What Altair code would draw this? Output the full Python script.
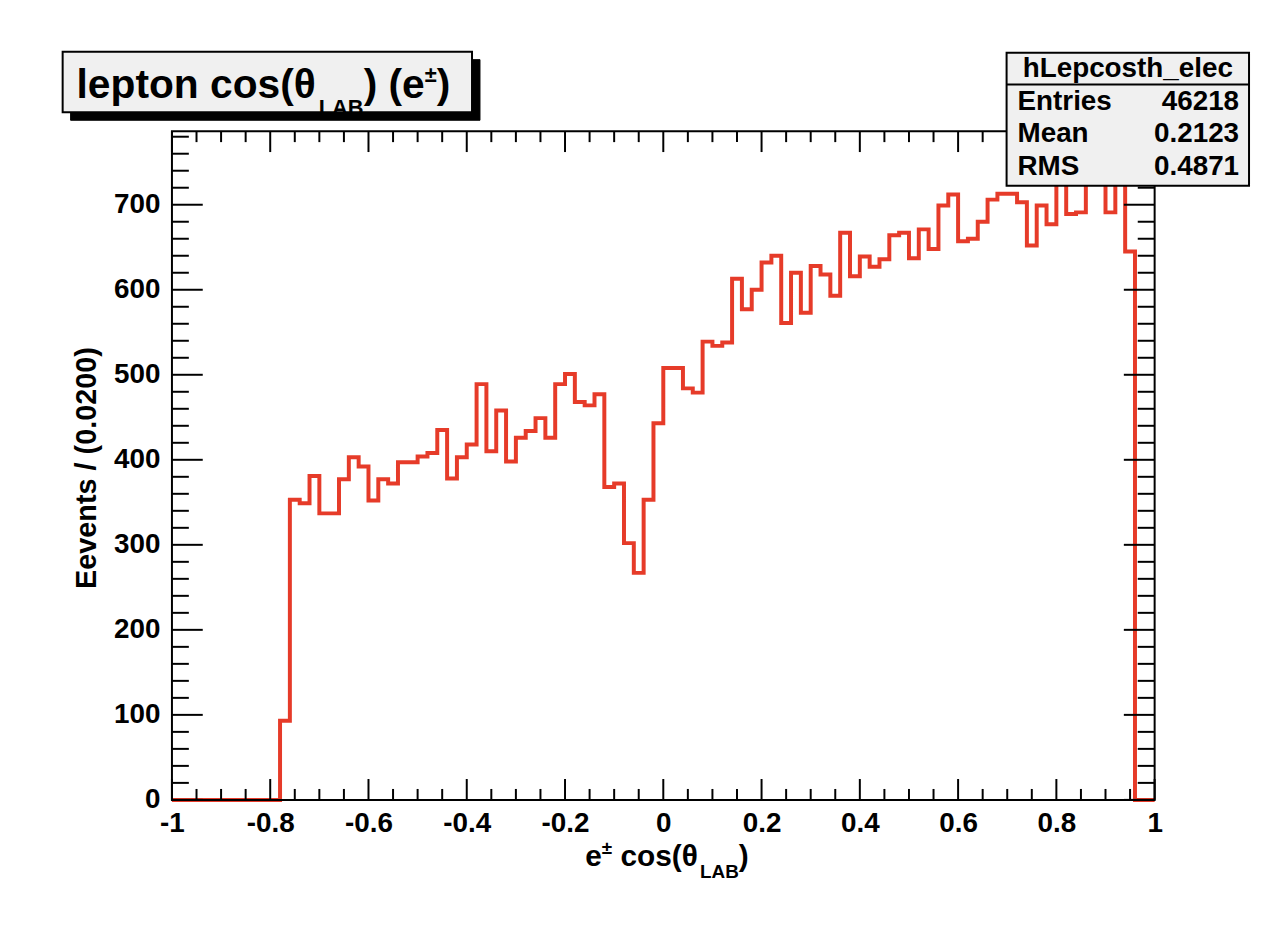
import altair as alt
import pandas as pd

# ---------------- data ----------------
BIN_WIDTH = 0.02
x_low = [round(-1 + BIN_WIDTH * i, 2) for i in range(100)]
counts = [0] * 11 + [
    93, 353, 349, 381, 337, 337, 377, 403, 392, 352,
    377, 372, 397, 397, 404, 408, 435, 378, 403, 418,
    489, 410, 458, 398, 426, 434, 449, 426, 489, 501,
    468, 464, 477, 368, 372, 302, 267, 353, 443, 508,
    508, 484, 479, 539, 534, 538, 613, 577, 600, 632,
    640, 561, 620, 573, 628, 618, 593, 667, 616, 639,
    627, 636, 664, 667, 637, 671, 648, 699, 712, 657,
    660, 680, 706, 713, 713, 703, 652, 699, 677, 728,
    689, 691, 749, 725, 691, 735, 645, 0, 0,
]
x_major = [-1, -0.8, -0.6, -0.4, -0.2, 0, 0.2, 0.4, 0.6, 0.8, 1]
x_minor = [round(-1 + 0.05 * i, 2) for i in range(41) if i % 4 != 0]
y_major = [0, 100, 200, 300, 400, 500, 600, 700]
y_minor = [v for v in range(0, 781, 20) if v % 100 != 0]

title_main = "lepton cos(θ"
title_sub = "LAB"
title_mid = ") (e"
title_sup = "±"
title_end = ")"
xt_a, xt_sup, xt_b, xt_sub, xt_c = "e", "±", "cos(θ", "LAB", ")"
y_title = "Eevents / (0.0200)"
stats_name = "hLepcosth_elec"
stats_keys = ["Entries", "Mean", "RMS"]
stats_vals = ["46218", "0.2123", "0.4871"]

# ---------------- layout helpers ----------------
W, H = 989, 673
PX0, PY0 = 173, 129  # page position of plot origin
FONT = "Liberation Sans, Arial, Helvetica, sans-serif"
RED = "#e63b29"

AW = {' ': 278, '(': 333, ')': 333, '.': 278, '/': 278, '_': 556, '±': 549,
      'A': 722, 'B': 722, 'E': 667, 'L': 611, 'M': 833, 'R': 722, 'S': 667,
      'a': 556, 'c': 556, 'e': 556, 'h': 611, 'i': 278, 'l': 278, 'n': 611,
      'o': 611, 'p': 611, 'r': 389, 's': 556, 't': 333, 'v': 556, 'θ': 611}


def tw(s, size):
    return sum(AW.get(ch, 556) for ch in s) / 1000 * size


def px(xp):
    return xp - PX0


def py(yp):
    return yp - PY0


def txt(s, x, y, size, align="left", baseline="alphabetic", angle=0):
    return alt.Chart(alt.Data(values=[{"t": s}])).mark_text(
        font=FONT, fontSize=size, fontWeight="bold", color="black",
        align=align, baseline=baseline, angle=angle,
    ).encode(text="t:N", x=alt.value(x), y=alt.value(y))


def box(x1, y1, x2, y2, fill, stroke="black", sw=2):
    return alt.Chart(alt.Data(values=[{"a": 1}])).mark_rect(
        fill=fill, stroke=stroke, strokeWidth=sw
    ).encode(x=alt.value(x1), x2=alt.value(x2), y=alt.value(y1), y2=alt.value(y2))


xscale = alt.Scale(domain=[-1, 1], nice=False, zero=False)
yscale = alt.Scale(domain=[0, 786.5], nice=False, zero=False)

XAXIS = alt.Axis(
    values=x_major, labelExpr="toString(datum.value)", ticks=False, domain=False,
    grid=False, title=None, labelFont=FONT, labelFontSize=28, labelFontWeight="bold",
    labelColor="black", labelPadding=10, labelFlush=False, labelOverlap=False)
YAXIS = alt.Axis(
    values=y_major, ticks=False, domain=False, grid=False, title=None,
    labelFont=FONT, labelFontSize=28, labelFontWeight="bold", labelColor="black",
    labelPadding=12, labelFlush=False, labelOverlap=False)

hist = pd.DataFrame({"x": x_low + [1.0], "n": counts + [counts[-1]]})

line = alt.Chart(hist).mark_line(
    interpolate="step-after", color=RED, strokeWidth=4, strokeJoin="miter"
).encode(
    x=alt.X("x:Q", scale=xscale, axis=XAXIS),
    y=alt.Y("n:Q", scale=yscale, axis=YAXIS),
)


def xticks(vals, length):
    d = pd.DataFrame({"x": vals})
    base = alt.Chart(d).mark_rule(color="black", strokeWidth=2)
    bot = base.encode(x=alt.X("x:Q", scale=xscale, axis=XAXIS),
                      y=alt.value(H), y2=alt.value(H - length))
    top = base.encode(x=alt.X("x:Q", scale=xscale, axis=XAXIS),
                      y=alt.value(0), y2=alt.value(length))
    return [bot, top]


def yticks(vals, length):
    d = pd.DataFrame({"n": vals})
    base = alt.Chart(d).mark_rule(color="black", strokeWidth=2)
    left = base.encode(y=alt.Y("n:Q", scale=yscale, axis=YAXIS),
                       x=alt.value(0), x2=alt.value(length))
    right = base.encode(y=alt.Y("n:Q", scale=yscale, axis=YAXIS),
                        x=alt.value(W), x2=alt.value(W - length))
    return [left, right]


frame = alt.Chart(alt.Data(values=[{"a": 1}])).mark_rect(
    fill="transparent", stroke="black", strokeWidth=2
).encode(x=alt.value(0), x2=alt.value(W), y=alt.value(0), y2=alt.value(H))

layers = [line]
layers += xticks(x_major, 21) + xticks(x_minor, 11)
layers += yticks(y_major, 31) + yticks(y_minor, 17)
layers.append(frame)

# ---- title box with shadow ----
layers.append(box(px(71), py(57), px(483), py(118), "black", "black", 1))
layers.append(box(px(63), py(49), px(475), py(110), "#f0f0f0"))
TS, TSS = 41, 22
x0 = px(77)
layers.append(txt(title_main, x0, py(96), TS))
x1 = x0 + tw(title_main, TS)
layers.append(txt(title_sub, x1, py(113), TSS))
x2 = x1 + tw(title_sub, TSS)
layers.append(txt(title_mid, x2, py(96), TS))
x3 = x2 + tw(title_mid, TS)
layers.append(txt(title_sup, x3, py(80), TSS))
x4 = x3 + tw(title_sup, TSS)
layers.append(txt(title_end, x4, py(96), TS))

# ---- x axis title ----
AS, ASS = 30, 19
xa = px(589)
layers.append(txt(xt_a, xa, py(869), AS))
xb = xa + tw(xt_a, AS)
layers.append(txt(xt_sup, xb, py(856), ASS))
xc = xb + tw(xt_sup, ASS) + tw(" ", AS)
layers.append(txt(xt_b, xc, py(869), AS))
xd = xc + tw(xt_b, AS)
layers.append(txt(xt_sub, xd, py(881), ASS))
xe = xd + tw(xt_sub, ASS)
layers.append(txt(xt_c, xe, py(869), AS))

# ---- y axis title ----
layers.append(txt(y_title, px(88), py(468), 29, align="center", baseline="middle", angle=270))

# ---- stats box ----
layers.append(box(px(1013), py(50), px(1257), py(184), "#f0f0f0"))
layers.append(alt.Chart(alt.Data(values=[{"a": 1}])).mark_rule(color="black", strokeWidth=2).encode(
    x=alt.value(px(1013)), x2=alt.value(px(1257)), y=alt.value(py(82))))
layers.append(txt(stats_name, px(1135), py(66), 28, align="center", baseline="middle"))
for k, v, yy in zip(stats_keys, stats_vals, [100, 132, 165]):
    layers.append(txt(k, px(1024), py(yy), 28, baseline="middle"))
    layers.append(txt(v, px(1247), py(yy), 28, align="right", baseline="middle"))

chart = alt.layer(*layers).properties(
    width=W, height=H,
    autosize=alt.AutoSizeParams(type="none"),
    padding={"left": 165, "top": 121, "right": 100, "bottom": 133},
    background="white",
).configure_view(strokeWidth=0)

chart.save("out.html", embed_options={"renderer": "svg", "actions": False})
